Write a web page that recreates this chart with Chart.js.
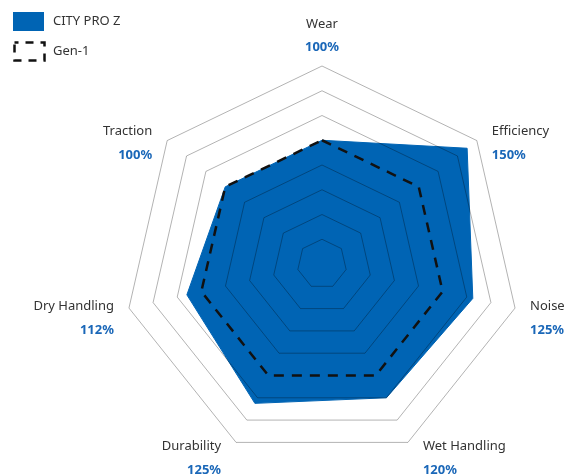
<!DOCTYPE html>
<html>
<head>
<meta charset="utf-8">
<script src="https://cdn.jsdelivr.net/npm/chart.js@4.4.0/dist/chart.umd.min.js"></script>
<style>
  html, body { margin: 0; padding: 0; background: #ffffff; }
  #wrap { width: 567px; height: 475px; position: relative; }
</style>
</head>
<body>
<div id="wrap"><canvas id="radar" width="567" height="475"></canvas></div>
<script>
// Axis categories, clockwise from the top
const axes = ['Wear', 'Efficiency', 'Noise', 'Wet Handling', 'Durability', 'Dry Handling', 'Traction'];
// Performance index per axis, in percent
const cityProZ = [100, 150, 125, 120, 125, 112, 100];
const gen1 = [100, 100, 100, 100, 100, 100, 100];
const seriesNames = ['CITY PRO Z', 'Gen-1'];
// Radial scale rings
const scaleMin = 0;
const scaleMax = 160;
const scaleStep = 20;
const baselineRing = 100;

const FONT = '"Noto Sans", sans-serif';
const BLUE = '#0064b4';
const VALUE_BLUE = '#1a67b8';
const TEXT = '#333333';

// Axis names with the CITY PRO Z value underneath
const axisLabels = {
  id: 'axisLabels',
  afterDraw(chart) {
    const s = chart.scales.r;
    const ctx = chart.ctx;
    const R = s.drawingArea;
    ctx.save();
    ctx.textBaseline = 'middle';
    axes.forEach((name, i) => {
      const p = s.getPointPosition(i, R);
      const cos = Math.cos(p.angle), sin = Math.sin(p.angle);
      let x, yName, yValue, align;
      if (Math.abs(cos) < 0.05) {
        align = 'center';
        x = p.x;
        yValue = p.y - 19;
        yName = yValue - 22.5;
      } else {
        align = cos > 0 ? 'left' : 'right';
        x = p.x + (cos > 0 ? 15 : -15);
        yName = p.y - 4 + 8.9 * sin;
        yValue = yName + 24;
      }
      ctx.textAlign = align;
      ctx.font = '13px ' + FONT;
      ctx.fillStyle = TEXT;
      ctx.fillText(name, x, yName);
      ctx.font = 'bold 13px ' + FONT;
      ctx.fillStyle = VALUE_BLUE;
      ctx.fillText(cityProZ[i] + '%', x, yValue);
    });
    ctx.restore();
  }
};

// Legend in the top-left corner, styled from the datasets
const cornerLegend = {
  id: 'cornerLegend',
  afterDraw(chart) {
    const ctx = chart.ctx;
    const ds = chart.data.datasets;
    ctx.save();
    ctx.font = '13px ' + FONT;
    ctx.textBaseline = 'middle';
    ctx.textAlign = 'left';
    // filled series
    ctx.fillStyle = ds[0].backgroundColor;
    ctx.fillRect(13, 12, 31, 19);
    ctx.fillStyle = TEXT;
    ctx.fillText(ds[0].label, 53, 21.5);
    // dashed series
    ctx.strokeStyle = ds[1].borderColor;
    ctx.lineWidth = 2.5;
    ctx.setLineDash([8, 7]);
    ctx.lineDashOffset = 4;
    ctx.strokeRect(14.5, 42.5, 30, 18);
    ctx.setLineDash([]);
    ctx.fillStyle = TEXT;
    ctx.fillText(ds[1].label, 53, 51);
    ctx.restore();
  }
};

new Chart(document.getElementById('radar'), {
  type: 'radar',
  data: {
    labels: axes,
    datasets: [
      {
        label: seriesNames[0],
        data: cityProZ,
        backgroundColor: BLUE,
        borderColor: BLUE,
        borderWidth: 1,
        fill: true,
        pointRadius: 0,
        order: 2
      },
      {
        label: seriesNames[1],
        data: gen1,
        backgroundColor: 'rgba(0,0,0,0)',
        borderColor: '#111111',
        borderWidth: 2.5,
        borderDash: [10, 8],
        borderJoinStyle: 'miter',
        fill: false,
        pointRadius: 0,
        order: 1
      }
    ]
  },
  options: {
    responsive: false,
    maintainAspectRatio: false,
    animation: false,
    devicePixelRatio: 1,
    layout: { padding: { top: 66, bottom: 13, left: 100, right: 23 } },
    plugins: {
      legend: { display: false },
      tooltip: { enabled: false }
    },
    scales: {
      r: {
        min: scaleMin,
        max: scaleMax,
        z: 1,
        ticks: { stepSize: scaleStep, display: false },
        pointLabels: { display: false },
        angleLines: { display: false },
        grid: {
          z: 1,
          lineWidth: 1,
          color: (c) => (c.tick && c.tick.value === baselineRing) ? 'rgba(0,0,0,0)' : 'rgba(0,0,0,0.3)'
        }
      }
    }
  },
  plugins: [axisLabels, cornerLegend]
});
</script>
</body>
</html>
